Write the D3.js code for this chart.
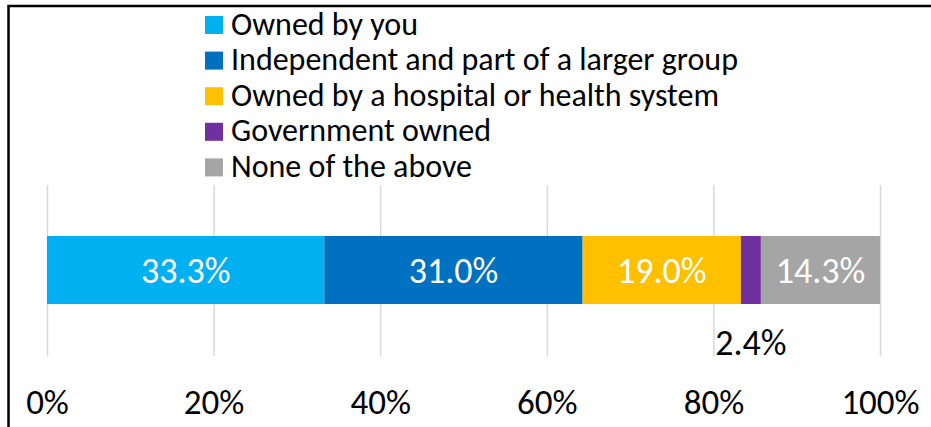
<!DOCTYPE html>
<html>
<head>
<meta charset="utf-8">
<script src="https://cdn.jsdelivr.net/npm/d3@7"></script>
<style>
  body { margin: 0; background: #fff; }
  svg text { font-family: Carlito, Lato, "Open Sans", sans-serif; }
</style>
</head>
<body>
<div id="chart"></div>
<script>
// data
var categories = ["Owned by you", "Independent and part of a larger group",
    "Owned by a hospital or health system", "Government owned", "None of the above"];
var values = [33.3, 31.0, 19.0, 2.4, 14.3];
var colors = ["#00b0f0", "#0070c0", "#ffc000", "#7030a0", "#a5a5a5"];
var ticks = [0, 20, 40, 60, 80, 100];

const W = 931, H = 427;

var svg = d3.select("#chart").append("svg")
    .attr("width", W)
    .attr("height", H);

// outer frame (runs off the right and bottom edges)
svg.append("rect")
    .attr("x", 8.5).attr("y", 6)
    .attr("width", 940).attr("height", 440)
    .attr("fill", "none")
    .attr("stroke", "#000")
    .attr("stroke-width", 2.5);

var x = d3.scaleLinear().domain([0, 100]).range([47, 880]);

// gridlines
svg.append("g")
    .attr("transform", "translate(0,356)")
    .call(d3.axisBottom(x).tickValues(ticks).tickSize(-171).tickFormat(""))
    .call(g => g.select(".domain").remove())
    .call(g => g.selectAll("line").attr("stroke", "#d9d9d9").attr("stroke-width", 1.5));

// tick labels
svg.append("g")
    .attr("transform", "translate(0,385)")
    .call(d3.axisBottom(x).tickValues(ticks).tickSize(0).tickFormat(d => d + "%"))
    .call(g => g.select(".domain").remove())
    .call(g => g.selectAll("text")
        .attr("fill", "#000")
        .attr("font-size", 35)
        .attr("dy", 26)
        .style("font-family", "Carlito, Lato, sans-serif"));

// stacked segments
var starts = [0].concat(Array.from(d3.cumsum(values)).slice(0, -1));
var segs = values.map((v, i) => ({ name: categories[i], value: v, start: starts[i], color: colors[i] }));

var barTop = 236, barH = 68;

svg.selectAll("rect.seg")
    .data(segs)
    .enter()
    .append("rect")
    .attr("class", "seg")
    .attr("x", d => x(d.start))
    .attr("y", barTop)
    .attr("width", d => x(d.start + d.value) - x(d.start))
    .attr("height", barH)
    .attr("fill", d => d.color);

// value labels: inside if wide enough, otherwise under the bar
svg.selectAll("text.val")
    .data(segs)
    .enter()
    .append("text")
    .attr("class", "val")
    .attr("x", d => x(d.start + d.value / 2))
    .attr("y", d => d.value < 5 ? 355 : 283)
    .attr("text-anchor", "middle")
    .attr("font-size", 36)
    .attr("fill", d => d.value < 5 ? "#000" : "#fff")
    .text(d => d.value.toFixed(1) + "%");

// legend
var legend = svg.append("g").attr("transform", "translate(205,16)");
var item = legend.selectAll("g")
    .data(segs)
    .enter()
    .append("g")
    .attr("transform", (d, i) => `translate(0, ${i * 35.6})`);

item.append("rect")
    .attr("width", 18)
    .attr("height", 18)
    .attr("fill", d => d.color);

item.append("text")
    .attr("x", 26)
    .attr("y", 18.5)
    .attr("font-size", 32)
    .attr("fill", "#000")
    .text(d => d.name);
</script>
</body>
</html>
